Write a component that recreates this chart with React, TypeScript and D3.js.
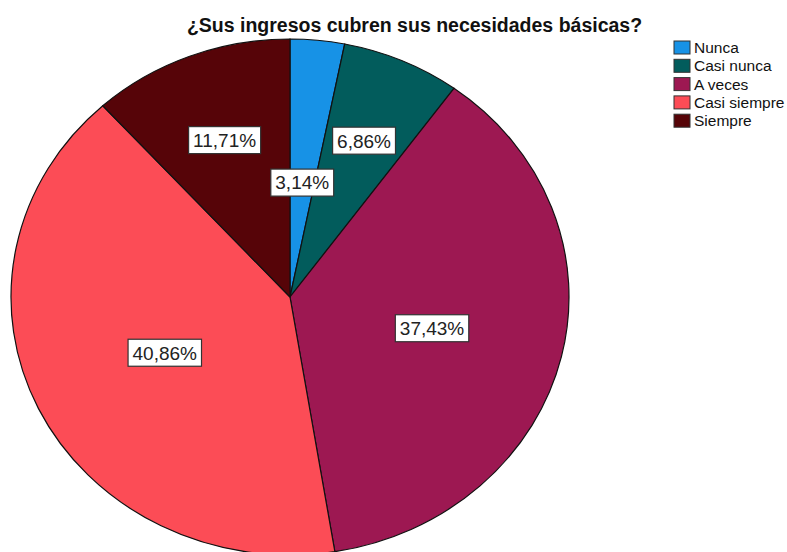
import React from "react";
import * as d3 from "d3";

const categories = ["Nunca", "Casi nunca", "A veces", "Casi siempre", "Siempre"];
const percents = [3.14, 6.86, 37.43, 40.86, 11.71];
const colors = ["#1792E6", "#025C5C", "#9D1852", "#FC4C56", "#560408"];
const title = "¿Sus ingresos cubren sus necesidades básicas?";

const W = 787;
const H = 552;
const cx = 290;
const cy = 297;
const rx = 279;
const ry = 258;

const LABEL_FONT = 19;
const FONT = "'Liberation Sans', Arial, sans-serif";

function measure(text: string, size: number, weight = "normal"): number {
  const c = document.createElement("canvas");
  const ctx = c.getContext("2d");
  if (!ctx) return text.length * size * 0.55;
  ctx.font = `${weight} ${size}px ${FONT}`;
  return ctx.measureText(text).width;
}

const fmt = (v: number) => v.toFixed(2).replace(".", ",") + "%";

export default function App() {
  const data = categories.map((c, i) => ({ cat: c, value: percents[i], color: colors[i] }));
  const pie = d3
    .pie<any>()
    .value((d) => d.value)
    .sort(null)
    .startAngle(0)
    .endAngle(2 * Math.PI);
  const arcs = pie(data);
  const arc = d3.arc<any>().innerRadius(0).outerRadius(rx);

  // label placement at sector centroid (ellipse-scaled), with simple collision avoidance
  type Box = { x: number; y: number; w: number; h: number; text: string };
  const boxes: (Box | null)[] = arcs.map(() => null);
  const order = arcs.map((_, i) => i).sort((a, b) => arcs[b].value - arcs[a].value);
  const placed: Box[] = [];
  const gap = 14;
  order.forEach((i) => {
    const a = arcs[i];
    const sweep = a.endAngle - a.startAngle;
    const mid = (a.startAngle + a.endAngle) / 2;
    let dist = (4 * Math.sin(sweep / 2)) / (3 * sweep);
    const text = fmt(a.value as number);
    const w = measure(text, LABEL_FONT) + 9;
    const h = 27;
    let box: Box = { x: 0, y: 0, w, h, text };
    for (let k = 0; k < 100; k++) {
      const x = cx + dist * Math.sin(mid) * rx;
      const y = cy - dist * Math.cos(mid) * ry;
      box = { x, y, w, h, text };
      const hit = placed.some(
        (p) =>
          Math.abs(p.x - x) < (p.w + w) / 2 + gap &&
          Math.abs(p.y - y) < (p.h + h) / 2 + gap
      );
      if (!hit) break;
      dist -= 0.01;
    }
    placed.push(box);
    boxes[i] = box;
  });

  const legendX = 674;
  const legendY0 = 41;
  const legendStep = 18.3;

  return (
    <div style={{ position: "absolute", left: 0, top: 0 }}>
      <svg width={W} height={H} style={{ display: "block", background: "#fff" }}>
        <text
          x={414.5}
          y={31.5}
          textAnchor="middle"
          fontFamily={FONT}
          fontWeight="bold"
          fontSize={19.5}
          fill="#111"
        >
          {title}
        </text>
        <g transform={`translate(${cx},${cy}) scale(1,${ry / rx})`}>
          {arcs.map((a, i) => (
            <path
              key={i}
              d={arc(a) || ""}
              fill={a.data.color}
              stroke="#111"
              strokeWidth={1.2}
              vectorEffect="non-scaling-stroke"
            />
          ))}
        </g>
        {boxes.map((b, i) =>
          b ? (
            <g key={i}>
              <rect
                x={b.x - b.w / 2}
                y={b.y - b.h / 2}
                width={b.w}
                height={b.h}
                fill="#fff"
                stroke="#333"
                strokeWidth={1.2}
              />
              <text
                x={b.x}
                y={b.y + LABEL_FONT * 0.36}
                textAnchor="middle"
                fontFamily={FONT}
                fontSize={LABEL_FONT}
                fill="#222"
              >
                {b.text}
              </text>
            </g>
          ) : null
        )}
        {categories.map((c, i) => (
          <g key={c} transform={`translate(${legendX},${legendY0 + i * legendStep})`}>
            <rect x={0} y={0} width={16} height={13} fill={colors[i]} stroke="#333" strokeWidth={1} />
            <text x={20} y={12} fontFamily={FONT} fontSize={15.5} fill="#111">
              {c}
            </text>
          </g>
        ))}
      </svg>
    </div>
  );
}
